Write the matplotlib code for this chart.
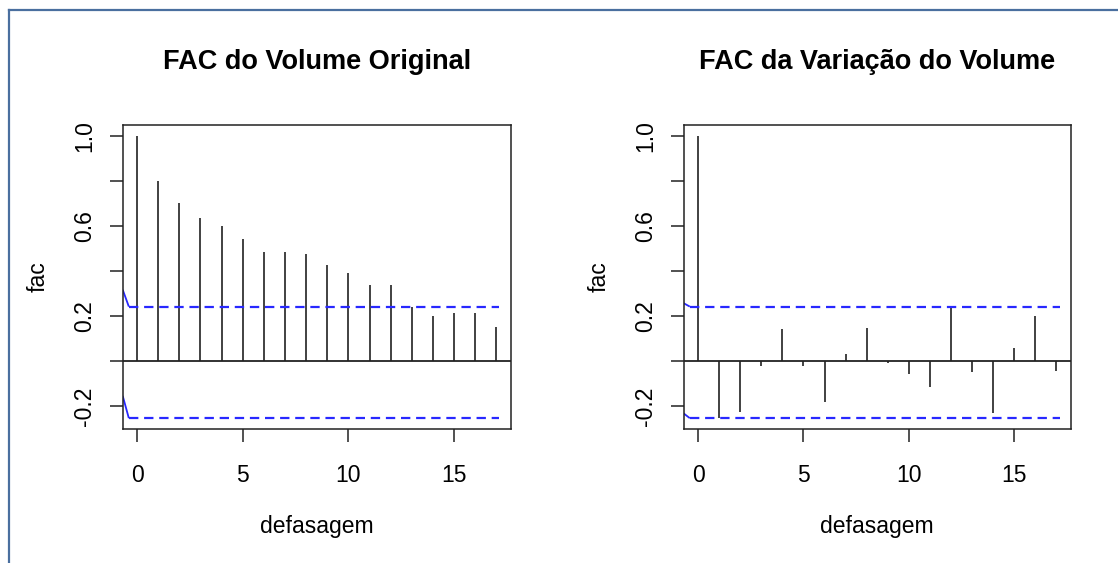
import numpy as np
import matplotlib
matplotlib.use("Agg")
import matplotlib.pyplot as plt
from matplotlib.lines import Line2D

plt.rcParams['font.family'] = ['Liberation Sans', 'DejaVu Sans']

lags = list(range(18))
acf_original = [1.0, 0.80, 0.703, 0.638, 0.599, 0.541, 0.484, 0.484, 0.478,
                0.426, 0.393, 0.337, 0.337, 0.243, 0.200, 0.214, 0.214, 0.154]
acf_variacao = [1.0, -0.252, -0.223, -0.022, 0.144, -0.022, -0.178, 0.033, 0.150,
                -0.009, -0.056, -0.113, 0.240, -0.049, -0.228, 0.059, 0.200, -0.042]

# confidence band lines: x points and values (upper / lower)
ci_x = [-0.68, -0.39, 17.15]
ci_orig_upper = [0.318, 0.243, 0.243]
ci_orig_lower = [-0.153, -0.252, -0.252]
ci_var_upper = [0.258, 0.243, 0.243]
ci_var_lower = [-0.231, -0.252, -0.252]

titles = ["FAC do Volume Original", "FAC da Variação do Volume"]
xlabel = "defasagem"
ylabel = "fac"
yticks = [-0.2, 0.0, 0.2, 0.4, 0.6, 0.8, 1.0]
ytick_labels = ["-0.2", "", "0.2", "", "0.6", "", "1.0"]
xticks = [0, 5, 10, 15]

W, H = 1118, 563
fig = plt.figure(figsize=(W / 100, H / 100), dpi=100)

axes_px = [(122.7, 510.7), (683.7, 1070.7)]
top_px, bot_px = 124.7, 429.0

blue = '#2828ff'
spike = '#333333'

series = [(acf_original, ci_orig_upper, ci_orig_lower),
          (acf_variacao, ci_var_upper, ci_var_lower)]

for (x0, x1), title, (vals, up, lo) in zip(axes_px, titles, series):
    ax = fig.add_axes([x0 / W, 1 - bot_px / H, (x1 - x0) / W, (bot_px - top_px) / H])
    ax.set_xlim(-0.68, 17.68)
    ax.set_ylim(-0.30, 1.05)
    ax.vlines(lags, 0, vals, colors=spike, linewidth=1.3)
    ax.axhline(0, color='#222222', linewidth=1.3)
    for ci in (up, lo):
        ax.plot(ci_x[:2], ci[:2], color=blue, linewidth=1.3, solid_capstyle='butt')
        ax.plot(ci_x[1:], ci[1:], color=blue, linewidth=1.6, linestyle=(0, (4.2, 2.6)))
    for s in ax.spines.values():
        s.set_linewidth(1.1)
        s.set_color('#222222')
    ax.set_yticks(yticks)
    ax.set_yticklabels(ytick_labels, rotation=90, va='center')
    ax.set_xticks(xticks)
    ax.tick_params(axis='both', length=9.5, width=1.1, color='#222222',
                   labelsize=16.5)
    ax.tick_params(axis='x', pad=15.5)
    ax.tick_params(axis='y', pad=9.4)
    ax.set_title(title, fontsize=19.5, fontweight='bold', pad=40)
    ax.set_xlabel(xlabel, fontsize=16.5, labelpad=20.5)
    ax.set_ylabel(ylabel, fontsize=16.5, labelpad=17)

# frame lines (left and top), blue-grey
fig.add_artist(Line2D([8.5 / W, 8.5 / W], [0, 1 - 10 / H], transform=fig.transFigure,
                      color='#4a6f9f', linewidth=1.6))
fig.add_artist(Line2D([8.5 / W, 1], [1 - 10 / H, 1 - 10 / H], transform=fig.transFigure,
                      color='#4a6f9f', linewidth=1.6))

fig.savefig("out.png", dpi=100)
